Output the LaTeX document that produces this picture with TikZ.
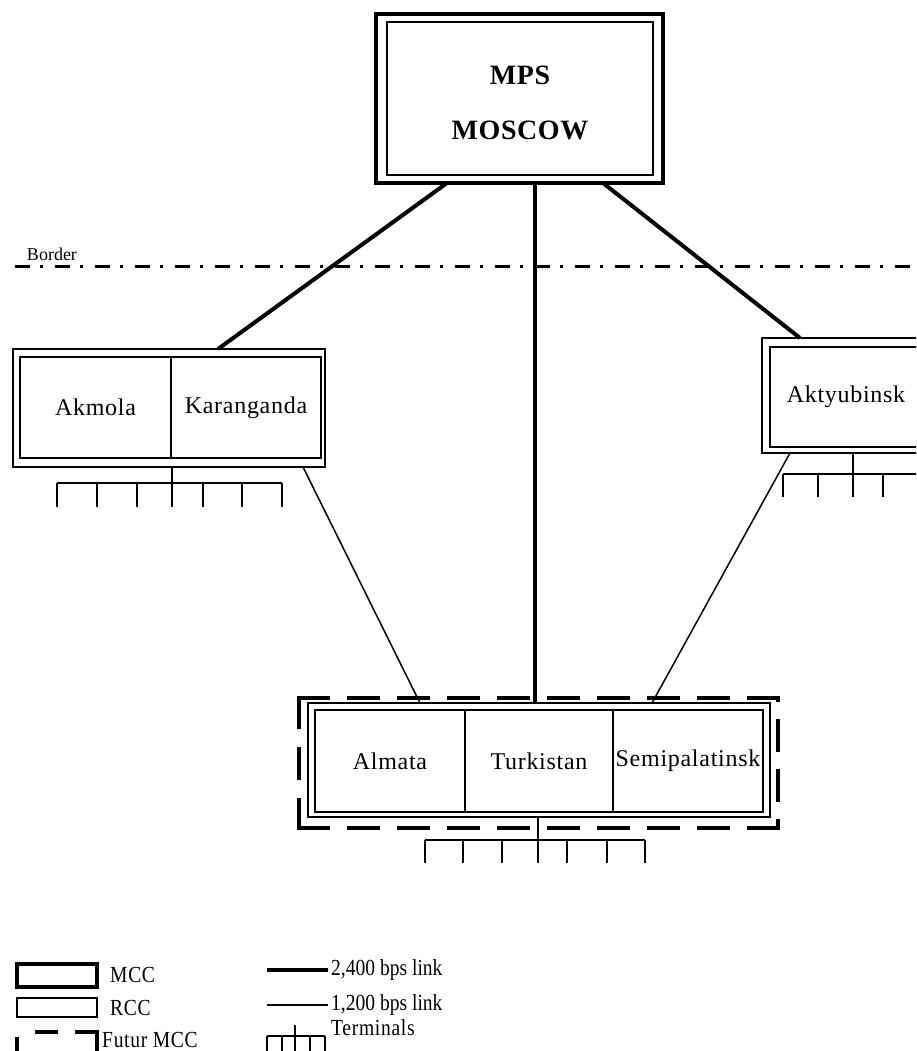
\documentclass[tikz,border=0pt]{standalone}
\usepackage{fontspec}
\setmainfont{Liberation Serif}
\newfontfamily\legfont[FakeStretch=0.85]{Liberation Serif}
\begin{document}
\begin{tikzpicture}[x=1pt,y=-1pt,
  box/.style={draw, rectangle, inner sep=0pt, outer sep=0pt},
  mccouter/.style={box, line width=4pt},
  mccinner/.style={box, line width=2pt},
  rccouter/.style={box, line width=2.5pt},
  cell/.style={box, line width=1.8pt, font=\fontsize{24}{28}\selectfont\addfontfeature{LetterSpace=3}},
  futside/.style={line width=4pt, line cap=rect, dash pattern=on 29pt off 21pt},
  fastlink/.style={line width=4pt},
  slowlink/.style={line width=1.5pt},
  term/.style={line width=2pt},
  borderline/.style={line width=3pt, dash pattern=on 15pt off 10pt on 3pt off 12pt},
  legtext/.style={anchor=west, inner sep=0pt, font=\legfont\fontsize{23}{26}\selectfont\addfontfeature{LetterSpace=3}},
  linktext/.style={anchor=west, inner sep=0pt, font=\legfont\fontsize{23}{26}\selectfont},
  plain/.style={inner sep=0pt, outer sep=0pt}
]
\useasboundingbox (0,0) rectangle (916,1051);
\clip (0,0) rectangle (916,1051);

% Border
\draw[borderline] (15,266) coordinate (bl) -- (916,266) coordinate (br);
\node[plain, anchor=base west, font=\fontsize{18}{20}\selectfont] (bordertext) at (27,260) {Border};

% MPS Moscow
\node[mccouter, minimum width=287pt, minimum height=169pt] (mpsout) at (519.5,98.5) {};
\node[mccinner, minimum width=266pt, minimum height=153pt] (mpsin) at (520,98.5) {};
\node[plain, align=center, font=\bfseries\fontsize{28}{55}\selectfont\addfontfeature{LetterSpace=2}] (mpstext) at (520,103) {MPS\\MOSCOW};

% Akmola / Karanganda
\node[rccouter, minimum width=312pt, minimum height=118pt] (akmbox) at (169,408) {};
\node[cell, minimum width=151pt, minimum height=101pt] (akm) at (95.5,407.5) {Akmola};
\node[cell, minimum width=150pt, minimum height=101pt] (kar) at (246,407.5) {Karanganda};

% Aktyubinsk
\node[rccouter, minimum width=168pt, minimum height=115pt] (aktbox) at (846,395.5) {};
\node[cell, minimum width=152pt, minimum height=100pt] (akt) at (846,397) {Aktyubinsk};

% Bottom group
\node[plain, minimum width=479pt, minimum height=130pt] (futbox) at (538.5,763) {};
\draw[futside] (futbox.north west) -- (futbox.north east);
\draw[futside] (futbox.south west) -- (futbox.south east);
\draw[futside, dash pattern=on 29pt off 22pt] (futbox.north west) -- (futbox.south west);
\draw[futside, dash phase=27pt] (futbox.north east) -- (futbox.south east);
\node[rccouter, minimum width=462pt, minimum height=114pt] (botbox) at (539,760) {};
\node[cell, minimum width=150pt, minimum height=102pt] (alm) at (390,761) {Almata};
\node[cell, minimum width=148pt, minimum height=102pt] (tur) at (539,761) {Turkistan};
\node[cell, minimum width=150pt, minimum height=102pt] (sem) at (688,761) {Semipalatinsk};

% Links
\draw[fastlink] ([xshift=-72.5pt]mpsout.south) -- ([xshift=49pt]akmbox.north);
\draw[fastlink] ([xshift=15.5pt]mpsout.south) -- ([xshift=-4pt]botbox.north);
\draw[fastlink] ([xshift=83.5pt]mpsout.south) -- ([xshift=-46pt]aktbox.north);
\draw[slowlink] ([xshift=134pt]akmbox.south) -- ([xshift=-119pt]botbox.north);
\draw[slowlink] ([xshift=-56pt]aktbox.south) -- ([xshift=113pt]botbox.north);

% Terminals Akmola
\coordinate (akmT) at (172,483);
\draw[term] ([xshift=3pt]akmbox.south) -- (akmT);
\draw[term] (57,483) -- (282,483);
\foreach \x in {57,97,137,172,203,242,282} \draw[term] (\x,483) -- (\x,507);

% Terminals Aktyubinsk
\coordinate (aktT) at (853,474);
\draw[term] ([xshift=7pt]aktbox.south) -- (aktT);
\draw[term] (783,474) -- (920,474);
\foreach \x in {783,818,853,883} \draw[term] (\x,474) -- (\x,497);

% Terminals bottom
\coordinate (botT) at (538,840);
\draw[term] ([xshift=-1pt]botbox.south) -- (botT);
\draw[term] (425,840) -- (645,840);
\foreach \x in {425,463,502,538,567,607,645} \draw[term] (\x,840) -- (\x,863);

% Legend
\node[box, line width=3.5pt, minimum width=80pt, minimum height=23pt] (legmcc) at (57,975.5) {};
\node[box, line width=1.8pt, minimum width=80pt, minimum height=19pt] (legrcc) at (57,1007.5) {};
\draw[line width=3.5pt, dash pattern=on 50pt off 17pt on 23pt off 23pt on 40pt] (97,1060) -- (97,1032) -- (17,1032) -- (17,1060);
\node[legtext] (tmcc) at (110,975) {MCC};
\node[legtext] (trcc) at (110,1008) {RCC};
\node[legtext] (tfut) at (102,1040) {Futur MCC};
\node[linktext] (tfast) at (331,970) {2,400 bps link};
\node[linktext] (tslow) at (331,1005) {1,200 bps link};
\node[legtext] (tterm) at (331,1028) {Terminals};
\draw[fastlink] (267,970) -- ([xshift=-3pt]tfast.west);
\draw[slowlink] (267,1005) -- ([xshift=-3pt]tslow.west);
\draw[term] (295,1025) -- (295,1036);
\draw[term] (267,1036) -- (325,1036);
\foreach \x in {267,282,295,310,325} \draw[term] (\x,1036) -- (\x,1056);
\end{tikzpicture}
\end{document}
